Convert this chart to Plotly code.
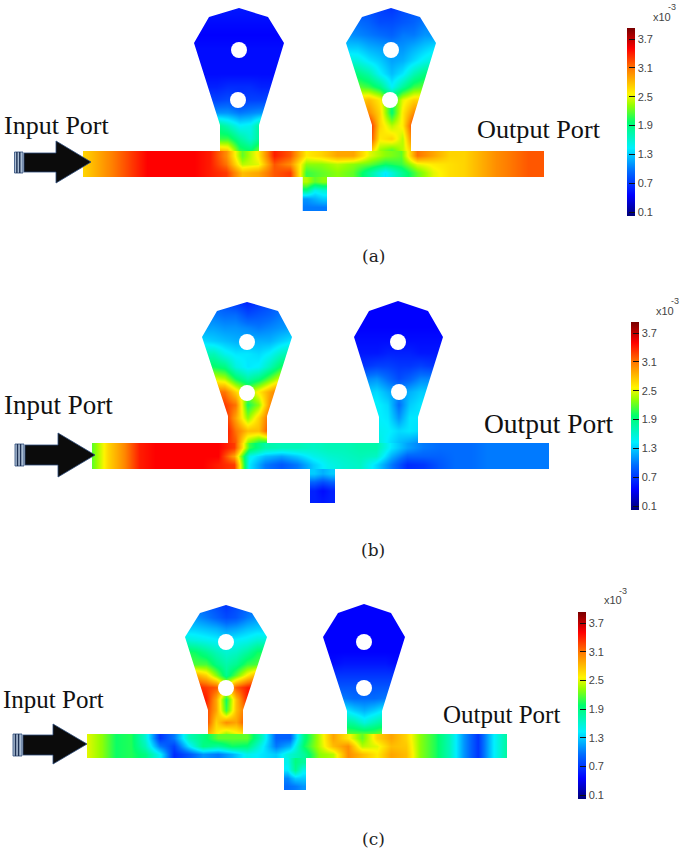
import numpy as np
import plotly.graph_objects as go

# ---------- value scale ----------
Z_MIN, Z_MAX = 0.02, 3.93
TICK_VALUES = [0.1, 0.7, 1.3, 1.9, 2.5, 3.1, 3.7]
TICK_LABELS = ["0.1", "0.7", "1.3", "1.9", "2.5", "3.1", "3.7"]
COLORS = [[0.0, "rgb(0,0,120)"], [0.11, "rgb(0,0,255)"], [0.24, "rgb(0,110,255)"], [0.36, "rgb(0,240,255)"],
          [0.5, "rgb(0,255,110)"], [0.59, "rgb(150,255,0)"], [0.65, "rgb(255,245,0)"], [0.78, "rgb(255,125,0)"],
          [0.89, "rgb(255,0,0)"], [1.0, "rgb(120,0,0)"]]

# ---------- panel (a) field values ----------
a_channel = [
 [2.7,2.9,3.1,3.3,3.5,3.5,3.5,3.5,3.4,3.0,2.2,2.6,3.4,3.2,2.6,2.7,2.9,2.9,2.5,2.3,2.2,3.1,2.9,2.7,2.7,2.85,3.0,3.1,3.2,3.2],
 [2.7,2.9,3.1,3.3,3.5,3.5,3.5,3.5,3.4,3.1,2.4,2.5,3.2,3.0,2.3,2.3,2.4,2.3,2.2,2.0,2.1,2.5,2.6,2.65,2.7,2.85,3.0,3.1,3.2,3.2],
 [2.7,2.9,3.1,3.3,3.5,3.5,3.5,3.5,3.4,3.3,2.8,2.9,3.2,3.3,2.1,2.2,2.3,2.2,1.8,1.4,1.8,2.2,2.5,2.65,2.7,2.85,3.0,3.1,3.2,3.2]]
a_left = [
 [.55]*9, [.5]*9, [.45]*9, [.5]*9, [.5]*9, [.5]*9,
 [.6,.6,.6,.65,.65,.65,.6,.6,.6],
 [.8,.8,.75,.8,.7,.75,.75,.8,.8],
 [1.1,1.1,1.1,1.1,1.0,1.05,1.1,1.1,1.1],
 [1.9,1.9,1.9,1.7,1.45,1.5,1.9,1.9,1.9],
 [2.1,2.1,2.1,2.1,1.8,1.6,1.9,2.0,2.0],
 [2.9,2.9,2.9,2.8,2.1,2.0,2.4,2.4,2.4]]
a_right = [
 [.8,.8,.8,.75,.7,.8,.85,.9,.9],
 [.95,.95,.9,.8,.8,.85,.9,1.0,1.0],
 [1.1,1.05,1.0,.95,.9,1.0,1.0,1.1,1.1],
 [1.3,1.3,1.2,1.15,1.1,1.1,1.2,1.3,1.4],
 [1.6,1.55,1.4,1.3,1.15,1.2,1.35,1.5,1.6],
 [2.0,1.9,1.75,1.45,1.25,1.4,1.7,1.9,2.0],
 [2.3,2.2,2.1,1.9,1.45,1.8,2.1,2.2,2.3],
 [2.7,2.7,2.8,2.6,2.0,2.5,2.7,2.7,2.7],
 [3.0,3.0,3.0,2.7,1.95,2.6,3.0,3.1,3.1],
 [3.5,3.5,3.5,2.7,2.4,2.6,3.4,3.4,3.4],
 [3.4,3.4,3.4,2.6,2.7,2.4,3.2,3.2,3.2],
 [2.8,2.8,2.8,2.3,2.1,2.4,2.8,2.8,2.8]]
a_stub = [[2.4,2.2,2.3],[1.9,1.5,1.6],[1.1,1.2,1.3],[1.0,1.0,1.0]]

# ---------- panel (b) field values ----------
b_channel = [
 [2.2,2.7,3.0,3.4,3.5,3.5,3.5,3.5,3.5,3.3,2.1,1.75,1.7,1.7,1.65,1.7,1.7,1.75,1.75,1.4,1.15,1.0,.95,.95,.95,1.0,1.0,1.0,1.0,1.0],
 [2.2,2.7,3.0,3.4,3.5,3.5,3.5,3.5,3.5,2.9,1.5,1.25,1.15,1.3,1.5,1.6,1.65,1.7,1.65,1.2,.9,.9,.9,.95,.95,1.0,1.0,1.0,1.0,1.0],
 [2.2,2.7,3.0,3.4,3.5,3.5,3.5,3.5,3.4,3.3,1.4,1.0,.85,1.0,1.3,1.5,1.6,1.65,1.35,1.0,.65,.7,.85,.95,.95,1.0,1.0,1.0,1.0,1.0]]
b_left = [
 [.9,.9,.8,.7,.6,.7,.8,.9,.9],
 [1.0,1.0,.95,.95,.8,.85,.9,1.0,1.0],
 [1.15,1.15,1.1,1.1,1.05,1.0,1.05,1.1,1.15],
 [1.35,1.3,1.25,1.2,1.2,1.2,1.2,1.3,1.4],
 [1.7,1.7,1.5,1.4,1.4,1.35,1.45,1.65,1.8],
 [2.0,2.0,1.9,1.55,1.4,1.45,1.7,2.0,2.1],
 [2.5,2.5,2.4,2.0,1.75,1.9,2.2,2.5,2.5],
 [3.1,3.1,3.1,2.7,2.3,2.6,2.9,3.2,3.1],
 [3.3,3.3,3.3,3.1,2.0,2.3,3.0,3.2,3.2],
 [3.5,3.5,3.4,2.9,2.3,2.7,3.2,3.3,3.3],
 [3.5,3.5,3.5,3.1,2.8,2.8,3.3,3.4,3.4],
 [3.5,3.5,3.4,3.2,2.3,2.0,1.95,1.9,1.9]]
b_right = [
 [.45]*9, [.45]*9, [.45]*9, [.5]*9,
 [.55,.55,.55,.6,.6,.6,.55,.55,.55],
 [.65,.7,.75,.75,.7,.7,.75,.7,.65],
 [1.0,1.05,1.1,.95,.8,.9,1.05,1.05,1.0],
 [1.3,1.3,1.35,1.2,1.1,1.2,1.3,1.3,1.3],
 [1.4,1.45,1.45,1.35,.95,1.3,1.4,1.4,1.4],
 [1.4,1.45,1.45,1.4,1.1,1.4,1.4,1.35,1.35],
 [1.5,1.5,1.5,1.45,1.35,1.4,1.35,1.3,1.3],
 [1.6,1.6,1.6,1.4,1.25,1.15,1.05,1.0,1.0]]
b_stub = [[1.3,1.2,1.3],[.9,.8,.9],[.6,.5,.6],[.6,.55,.6]]

# ---------- panel (c) field values ----------
c_channel = [
 [2.5,2.3,2.0,2.05,1.6,.7,1.0,1.7,1.9,2.2,2.2,2.2,1.7,.9,.9,1.9,2.4,2.9,2.6,2.2,2.7,2.9,2.7,2.3,2.05,1.7,1.1,.7,1.4,1.8],
 [2.5,2.3,2.0,2.05,1.7,1.0,.75,1.4,1.9,1.8,2.0,1.95,1.5,1.0,1.2,2.0,2.4,2.8,3.0,2.4,2.5,2.8,2.75,2.3,2.05,1.7,1.1,.7,1.4,1.8],
 [2.5,2.3,2.0,2.05,1.9,1.45,.65,.85,1.1,1.0,1.2,1.5,1.4,1.3,1.6,1.8,2.3,2.4,3.0,2.8,2.6,2.9,2.8,2.3,2.05,1.7,1.1,.7,1.4,1.8]]
c_left = [
 [.95,.95,.9,.8,.7,.8,.9,.95,.95],
 [1.1,1.1,1.0,.9,.8,.85,1.0,1.1,1.1],
 [1.3,1.3,1.25,1.2,1.1,1.15,1.25,1.3,1.3],
 [1.6,1.55,1.5,1.45,1.4,1.45,1.5,1.6,1.6],
 [2.05,2.0,1.85,1.7,1.6,1.65,1.8,2.0,2.05],
 [2.15,2.15,2.15,1.9,1.75,1.85,2.1,2.15,2.15],
 [2.9,2.9,2.7,2.3,1.85,2.2,2.6,2.9,2.9],
 [3.4,3.4,3.3,3.2,2.7,3.2,3.4,3.5,3.4],
 [3.5,3.5,3.4,2.9,2.0,2.8,3.4,3.4,3.4],
 [3.4,3.4,3.3,2.9,2.1,2.8,3.2,3.3,3.3],
 [3.3,3.3,3.3,2.7,3.0,2.9,3.3,3.3,3.3],
 [3.0,3.0,2.9,2.6,2.3,2.5,2.6,2.6,2.6]]
c_right = [
 [.45]*9, [.45]*9, [.45]*9, [.45]*9, [.45]*9,
 [.5,.5,.55,.55,.55,.55,.55,.5,.5],
 [.7]*9, [.85]*9,
 [1.1,1.1,1.0,.95,.95,.95,1.0,1.1,1.1],
 [1.5,1.5,1.45,1.3,1.2,1.3,1.45,1.5,1.5],
 [1.9,1.9,1.85,1.75,1.55,1.7,1.85,1.9,1.9],
 [2.3,2.3,2.2,2.2,2.2,2.2,2.3,2.3,2.3]]
c_stub = [[1.5,1.9,1.8],[1.4,1.85,1.5],[1.05,1.3,1.3],[.95,1.0,1.1]]

# ---------- panel geometry (page pixels): x0, x1, top, bottom ----------
a_bounds = [83, 544, 151, 177]
b_bounds = [92, 549, 443, 469]
c_bounds = [87, 507, 734, 758]
a_stub_box = [302.5, 327, 211]
b_stub_box = [310, 335, 503]
c_stub_box = [284, 306, 790]
# flask outline: left-wide x, top-shoulder-left x, centre x, top-shoulder-right x, right-wide x,
#                neck left x, neck right x, apex y, shoulder y, wide y, neck y
a_flasks = [[194, 209, 239, 268, 284, 220, 259, 8, 17, 43, 125],
            [346, 362, 391, 420, 436, 372, 411, 8, 17, 43, 125]]
b_flasks = [[202, 217, 247, 278, 292, 228, 267, 302, 311, 337, 416],
            [354, 369, 398, 428, 443, 379, 418, 301, 311, 337, 417]]
c_flasks = [[185, 200, 226, 252, 267, 208, 243, 605, 613, 637, 710],
            [323, 338, 364, 391, 405, 347, 382, 604, 613, 637, 711]]
a_holes = [[239, 238, 391, 390], [50, 100, 50, 100]]
b_holes = [[247, 247, 398, 399], [342, 393, 342, 392]]
c_holes = [[226, 226, 364, 364], [642, 688, 642, 688]]
# arrow: stripe x0, stripe x1, body x0, head x, tip x, body top, body bottom, head top, head bottom, mid y
a_arrow = [14.5, 23, 24, 56, 91, 153, 172, 141, 183, 162]
b_arrow = [15, 24, 25, 58, 95, 445, 465, 433, 477, 455]
c_arrow = [13, 22, 23, 53, 87, 735, 755, 724, 764, 744]
# colour bars: x left, y top, y bottom
a_bar = [627, 28, 216]
b_bar = [631, 322, 510]
c_bar = [578, 612, 799]

INPUT_LABEL = "Input Port"
OUTPUT_LABEL = "Output Port"
CAPTIONS = ["(a)", "(b)", "(c)"]
a_text = [[2, 125, 26], [475, 129, 26.2], [373, 256], [651, 17], [666, 7]]
b_text = [[2, 405, 27], [482, 423, 27.5], [373, 550], [654, 311], [669, 301]]
c_text = [[1, 699, 25], [441, 714, 25], [373, 839], [602, 600], [617, 591]]

W, H = 685, 850
fig = go.Figure()


def heat(x_vals, y_vals, z, bar=None):
    kw = dict(showscale=False)
    if bar is not None:
        x_left, y_top, y_bot = bar
        kw = dict(showscale=True, colorbar=dict(
            x=x_left / W, xanchor="left", thickness=8, thicknessmode="pixels",
            y=1 - (y_top + y_bot) / 2 / H, yanchor="middle", len=y_bot - y_top, lenmode="pixels",
            xpad=0, ypad=0, outlinewidth=0, borderwidth=0,
            tickmode="array", tickvals=TICK_VALUES, ticktext=TICK_LABELS,
            ticks="inside", ticklen=6, tickwidth=1, tickcolor="#111",
            tickfont=dict(family="Liberation Sans", size=11, color="#444")))
    fig.add_trace(go.Heatmap(x=x_vals, y=y_vals, z=z, zmin=Z_MIN, zmax=Z_MAX, colorscale=COLORS,
                             zsmooth="best", hoverinfo="skip", **kw))


def panel(bounds, stub_box, flasks, holes, arrow, bar, channel, left, right, stub, text, caption):
    x0, x1, top, bot = bounds
    sx0, sx1, sbot = stub_box
    # field: flasks first so the channel, drawn later, covers their lower overhang
    for flask, vals in zip(flasks, (left, right)):
        heat(np.linspace(flask[0], flask[4], 9), np.linspace(flask[7], top, 12), vals)
    heat(np.linspace(sx0, sx1, 4), np.linspace(bot, sbot, 5), stub)
    heat(np.linspace(x0, x1, 30), np.linspace(top, bot, 4), channel, bar)

    # white mask leaving only the device outline visible
    ox = [x0]
    oy = [top]
    for f in flasks:
        ox += [f[5], f[5], f[0], f[1], f[2], f[3], f[4], f[6], f[6]]
        oy += [top, f[10], f[9], f[8], f[7], f[8], f[9], f[10], top]
    ox += [x1, x1, sx1, sx1, sx0, sx0, x0, x0]
    oy += [top, bot, bot, sbot, sbot, bot, bot, top]
    ox, oy = ox[::-1], oy[::-1]
    fx0 = min(x0, min(f[0] for f in flasks)) - 10
    fx1 = x1 + 10
    fy0, fy1 = min(f[7] for f in flasks) - 8, sbot + 3
    mx = [fx0, fx1, fx1, fx0, fx0] + ox + [fx0]
    my = [fy0, fy0, fy1, fy1, fy0] + oy + [fy0]
    fig.add_trace(go.Scatter(x=mx, y=my, mode="lines", fill="toself", fillcolor="white",
                             line=dict(width=0, color="white"), hoverinfo="skip", showlegend=False))
    # coupling holes
    fig.add_trace(go.Scatter(x=holes[0], y=holes[1], mode="markers", hoverinfo="skip", showlegend=False,
                             marker=dict(symbol="circle", size=16, color="white", line=dict(width=0))))
    # input arrow
    s0, s1, b0, hx, tip, bt, bb, ht, hb, my_ = arrow
    fig.add_trace(go.Scatter(x=[s0, s1, s1, s0, s0], y=[bt - 1, bt - 1, bb + 1, bb + 1, bt - 1], mode="lines",
                             fill="toself", fillcolor="#a9bcd2", line=dict(width=0.8, color="#2b4a78"),
                             hoverinfo="skip", showlegend=False))
    for k in (0.28, 0.62):
        sx = s0 + (s1 - s0) * k
        fig.add_trace(go.Scatter(x=[sx, sx], y=[bt - 1, bb + 1], mode="lines", line=dict(width=1.4, color="#1c2f52"),
                                 hoverinfo="skip", showlegend=False))
    fig.add_trace(go.Scatter(x=[b0, hx, hx, tip, hx, hx, b0, b0], y=[bt, bt, ht, my_, hb, bb, bb, bt], mode="lines",
                             fill="toself", fillcolor="#0b0b0b", line=dict(width=0.8, color="#2b4a78"),
                             hoverinfo="skip", showlegend=False))
    # labels
    inp, out, cap, x10, exp_ = text
    serif = "Liberation Serif"
    fig.add_annotation(x=inp[0], y=inp[1], text=INPUT_LABEL, xanchor="left", yanchor="middle", showarrow=False,
                       font=dict(family=serif, size=inp[2], color="#111"))
    fig.add_annotation(x=out[0], y=out[1], text=OUTPUT_LABEL, xanchor="left", yanchor="middle", showarrow=False,
                       font=dict(family=serif, size=out[2], color="#111"))
    fig.add_annotation(x=cap[0], y=cap[1], text=caption, xanchor="center", yanchor="middle", showarrow=False,
                       font=dict(family="DejaVu Serif", size=17, color="#222"))
    fig.add_annotation(x=x10[0], y=x10[1], text="x10", xanchor="left", yanchor="middle", showarrow=False,
                       font=dict(family="Liberation Sans", size=11, color="#444"))
    fig.add_annotation(x=exp_[0], y=exp_[1], text="-3", xanchor="left", yanchor="middle", showarrow=False,
                       font=dict(family="Liberation Sans", size=9, color="#444"))


panel(a_bounds, a_stub_box, a_flasks, a_holes, a_arrow, a_bar, a_channel, a_left, a_right, a_stub, a_text, CAPTIONS[0])
panel(b_bounds, b_stub_box, b_flasks, b_holes, b_arrow, b_bar, b_channel, b_left, b_right, b_stub, b_text, CAPTIONS[1])
panel(c_bounds, c_stub_box, c_flasks, c_holes, c_arrow, c_bar, c_channel, c_left, c_right, c_stub, c_text, CAPTIONS[2])

fig.update_layout(width=W, height=H, margin=dict(l=0, r=0, t=0, b=0, pad=0, autoexpand=False),
                  paper_bgcolor="white", plot_bgcolor="white", showlegend=False, hovermode=False)
fig.update_xaxes(range=[0, W], visible=False, fixedrange=True, domain=[0, 1])
fig.update_yaxes(range=[H, 0], visible=False, fixedrange=True, domain=[0, 1])
fig.write_html("out.html", config=dict(displayModeBar=False),
               post_script="document.body.style.margin='0';document.documentElement.style.overflow='hidden';")
